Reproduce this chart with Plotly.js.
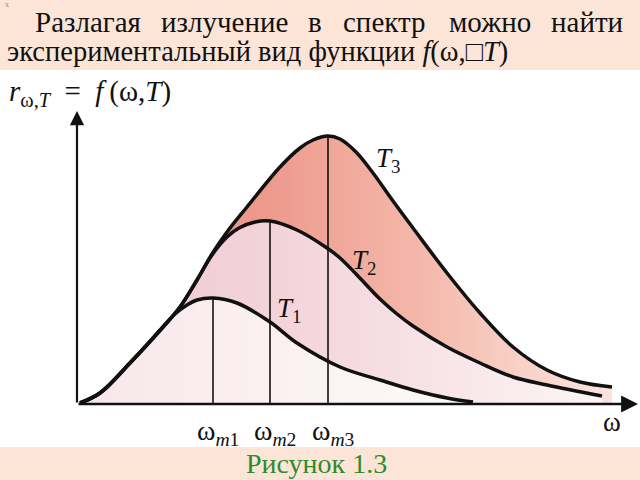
<!DOCTYPE html>
<html>
<head>
<meta charset="utf-8">
<script src="https://cdn.plot.ly/plotly-3.0.1.min.js"></script>
<style>html,body{margin:0;padding:0;background:#fff;}#chart{width:640px;height:480px;}</style>
</head>
<body>
<div id="chart"></div>
<script>
// Data (ω and r in arbitrary units)
const omegaT1 = [0.03,0.23,0.53,0.86,0.98,1.10,1.20,1.36,1.60,1.93,2.20,2.63,3.03,3.36,3.70,3.96];
const rT1     = [0.01,0.11,0.41,0.77,0.90,0.99,1.04,1.06,1.01,0.82,0.61,0.37,0.24,0.14,0.06,0.02];

const omegaT2 = [0.03,0.23,0.53,0.86,1.03,1.20,1.35,1.50,1.62,1.78,1.93,2.20,2.50,2.63,2.80,3.03,3.20,3.36,3.70,4.03,4.36,4.70,5.25];
const rT2     = [0.01,0.11,0.41,0.77,0.97,1.24,1.49,1.67,1.76,1.82,1.83,1.74,1.56,1.46,1.29,1.05,0.90,0.78,0.57,0.41,0.27,0.19,0.08];

const omegaT3 = [0.03,0.23,0.53,0.86,1.03,1.20,1.35,1.50,1.70,2.03,2.23,2.36,2.51,2.63,2.79,2.96,3.16,3.36,3.70,4.03,4.36,4.70,5.03,5.35];
const rT3     = [0.01,0.11,0.41,0.77,0.97,1.24,1.50,1.72,1.97,2.37,2.56,2.64,2.68,2.65,2.52,2.31,2.03,1.76,1.31,0.91,0.57,0.34,0.22,0.17];

const peakOmega = [1.36, 1.93, 2.51];
const peakR     = [1.06, 1.83, 2.68];
const peakLabels = ['ω<sub><i>m</i>1</sub>', 'ω<sub><i>m</i>2</sub>', 'ω<sub><i>m</i>3</sub>'];
const curveLabels = ['<i>T</i><sub>1</sub>', '<i>T</i><sub>2</sub>', '<i>T</i><sub>3</sub>'];
const line1Words = ['Разлагая','излучение','в','спектр','можно','найти'];
const line2Text = 'экспериментальный вид функции <i>f</i>(ω,□<i>T</i>)';
const formulaText = '<i>r</i><sub>ω,<i>T</i></sub>\u00a0\u00a0=\u00a0\u00a0<i>f</i>\u2009(ω,<i>T</i>)';
const captionText = 'Рисунок 1.3';

const serif = '"Liberation Serif", "Times New Roman", Times, serif';
const lineStyle = {color:'#111', width:3.5, shape:'spline', smoothing:1};

const traces = [];
traces.push({x:omegaT3, y:rT3, mode:'lines', line:{width:0, shape:'spline', smoothing:1}, fill:'tozeroy',
  fillgradient:{type:'horizontal', colorscale:[[0,'#e98d7f'],[0.35,'#ed9a8c'],[0.62,'#f3b6a8'],[0.82,'#f8d0c6'],[1,'#fbe4de']]}});
traces.push({x:omegaT2, y:rT2, mode:'lines', line:{width:0, shape:'spline', smoothing:1}, fill:'tozeroy',
  fillgradient:{type:'horizontal', colorscale:[[0,'#efc8d2'],[0.4,'#f3d4db'],[0.7,'#f8e5e8'],[1,'#fdf5f5']]}});
traces.push({x:omegaT1, y:rT1, mode:'lines', line:{width:0, shape:'spline', smoothing:1}, fill:'tozeroy',
  fillgradient:{type:'horizontal', colorscale:[[0,'#f7e6e9'],[0.5,'#fbf1f2'],[1,'#fdf9f9']]}});
for (let i = 0; i < peakOmega.length; i++) {
  traces.push({x:[peakOmega[i], peakOmega[i]], y:[0, peakR[i]], mode:'lines', line:{color:'#111', width:1.6}});
}
traces.push({x:omegaT3, y:rT3, mode:'lines', line:lineStyle});
traces.push({x:omegaT2, y:rT2, mode:'lines', line:lineStyle});
traces.push({x:omegaT1, y:rT1, mode:'lines', line:lineStyle});

const ann = [];
const line1X = [-0.44, 0.82, 2.29, 2.64, 3.70, 4.72];
for (let i = 0; i < line1Words.length; i++) {
  ann.push({x:line1X[i], y:3.82, xref:'x', yref:'y', xanchor:'left', yanchor:'middle', showarrow:false,
    text:line1Words[i], font:{family:serif, size:29, color:'#111'}});
}
ann.push({x:-0.72, y:3.52, xref:'x', yref:'y', xanchor:'left', yanchor:'middle', showarrow:false,
  text:line2Text, font:{family:serif, size:28.5, color:'#111'}});
ann.push({x:-0.74, y:4.0, xref:'x', yref:'y', xanchor:'left', yanchor:'middle', showarrow:false,
  text:'x', font:{family:serif, size:8, color:'#7a9a6a'}});
ann.push({x:-0.70, y:3.11, xref:'x', yref:'y', xanchor:'left', yanchor:'middle', showarrow:false,
  text:formulaText, font:{family:serif, size:29, color:'#111'}});
ann.push({x:0, y:2.93, ax:0, ay:0, xref:'x', yref:'y', axref:'x', ayref:'y', showarrow:true, text:'',
  arrowhead:2, arrowsize:1.3, arrowwidth:2.2, arrowcolor:'#111', standoff:0, startstandoff:0});
ann.push({x:5.61, y:0, ax:0, ay:0, xref:'x', yref:'y', axref:'x', ayref:'y', showarrow:true, text:'',
  arrowhead:2, arrowsize:1.3, arrowwidth:2.6, arrowcolor:'#111', standoff:0, startstandoff:0});
const curveLabelX = [1.98, 2.73, 2.97];
const curveLabelY = [0.94, 1.42, 2.44];
for (let i = 0; i < curveLabels.length; i++) {
  ann.push({x:curveLabelX[i], y:curveLabelY[i], xref:'x', yref:'y', xanchor:'left', yanchor:'middle', showarrow:false,
    text:curveLabels[i], font:{family:serif, size:27, color:'#111'}});
}
for (let i = 0; i < peakLabels.length; i++) {
  ann.push({x:peakOmega[i] + 0.05, y:-0.28, xref:'x', yref:'y', xanchor:'center', yanchor:'middle', showarrow:false,
    text:peakLabels[i], font:{family:serif, size:28, color:'#111'}});
}
ann.push({x:5.35, y:-0.18, xref:'x', yref:'y', xanchor:'center', yanchor:'middle', showarrow:false,
  text:'ω', font:{family:serif, size:27, color:'#111'}});
ann.push({x:2.39, y:-0.59, xref:'x', yref:'y', xanchor:'center', yanchor:'middle', showarrow:false,
  text:captionText, font:{family:serif, size:28, color:'#2e8b2e'}});

const shapes = [
  {type:'rect', xref:'x', yref:'y', x0:-0.77, x1:5.63, y0:3.34, y1:4.04, fillcolor:'#fce5d6', line:{width:0}, layer:'below'},
  {type:'rect', xref:'x', yref:'y', x0:-0.77, x1:5.63, y0:-0.76, y1:-0.43, fillcolor:'#fce5d6', line:{width:0}, layer:'below'}
];

const layout = {
  width:640, height:480, margin:{l:0, r:0, t:0, b:0},
  paper_bgcolor:'#ffffff', plot_bgcolor:'#ffffff',
  showlegend:false, hovermode:false,
  font:{family:serif},
  xaxis:{range:[-0.77, 5.63], visible:false, fixedrange:true},
  yaxis:{range:[-0.76, 4.04], visible:false, fixedrange:true},
  shapes:shapes, annotations:ann
};
Plotly.newPlot('chart', traces.map(t => Object.assign({showlegend:false, hoverinfo:'skip', cliponaxis:false}, t)), layout, {staticPlot:true, displayModeBar:false});
</script>
</body>
</html>
